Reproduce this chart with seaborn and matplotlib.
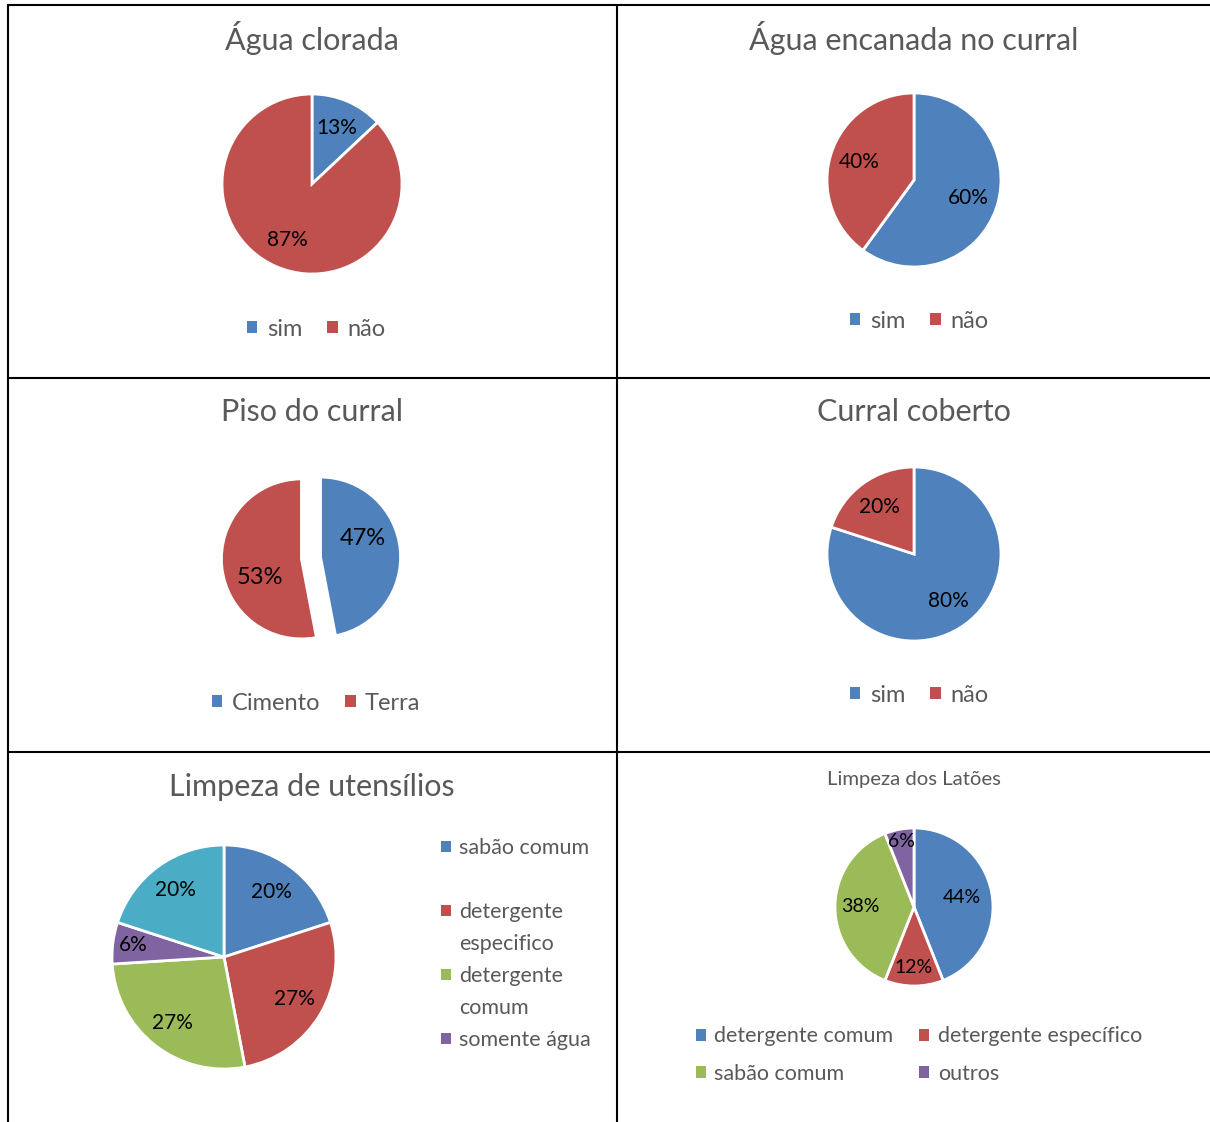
import matplotlib
matplotlib.use('Agg')
import matplotlib.pyplot as plt
import matplotlib.patches as mpatches
from matplotlib.lines import Line2D
import numpy as np
import seaborn as sns

W, H = 1210, 1122

# ---------------- data ----------------
cloro_title = 'Água clorada'
cloro_labels = ['sim', 'não']
cloro_vals = [13, 87]

encanada_title = 'Água encanada no curral'
encanada_labels = ['sim', 'não']
encanada_vals = [60, 40]

piso_title = 'Piso do curral'
piso_labels = ['Cimento', 'Terra']
piso_vals = [47, 53]

coberto_title = 'Curral coberto'
coberto_labels = ['sim', 'não']
coberto_vals = [80, 20]

utens_title = 'Limpeza de utensílios'
utens_labels = ['sabão comum', 'detergente especifico', 'detergente comum', 'somente água', 'outros']
utens_vals = [20, 27, 27, 6, 20]

latoes_title = 'Limpeza dos Latões'
latoes_labels = ['detergente comum', 'detergente específico', 'sabão comum', 'outros']
latoes_vals = [44, 12, 38, 6]

# ---------------- style ----------------
sns.set_theme(style='white')
plt.rcParams['font.family'] = ['Lato', 'DejaVu Sans']
pal = sns.color_palette(['#4F81BD', '#C0504D', '#9BBB59', '#8064A2', '#4BACC6'])
GRAY = '#595959'

fig = plt.figure(figsize=(W / 100, H / 100), dpi=100)
fig.patch.set_facecolor('white')


def fx(x):
    return x / W


def fy(y):
    return 1 - y / H


def px_axes(cx, cy, r, pad=1.3):
    s = 2 * r * pad
    return fig.add_axes([fx(cx - s / 2), fy(cy + s / 2), s / W, s / H])


def draw_pie(cx, cy, r, vals, fontsize, pctdist, explode=None, dists=None, rot=0.0):
    ax = px_axes(cx, cy, r)
    n = len(vals)
    wedges, texts, autotexts = ax.pie(
        vals, colors=pal[:n], startangle=90, counterclock=False,
        autopct='%.0f%%', pctdistance=pctdist, explode=explode,
        wedgeprops=dict(edgecolor='white', linewidth=2),
        textprops=dict(fontsize=fontsize, color='black'))
    if dists is None:
        dists = [pctdist] * n
    for w, t, d in zip(wedges, autotexts, dists):
        ang = np.deg2rad((w.theta1 + w.theta2) / 2 + rot)
        ox, oy = w.center
        t.set_position((ox + d * np.cos(ang), oy + d * np.sin(ang)))
    ax.set_xlim(-1.3, 1.3)
    ax.set_ylim(-1.3, 1.3)
    ax.set_aspect('equal')
    ax.axis('off')
    return ax


def title(x, y, s, size):
    fig.text(fx(x), fy(y), s, ha='center', va='center', fontsize=size, color=GRAY)


def row_legend(cx, cy, labels, size, order=None, ncol=None, colsp=1.05, labsp=0.5):
    idx = order if order is not None else list(range(len(labels)))
    hs = [mpatches.Patch(facecolor=pal[i], edgecolor='none') for i in idx]
    ls = [labels[i] for i in idx]
    leg = fig.legend(hs, ls, loc='center',
                     bbox_to_anchor=(fx(cx), fy(cy)), ncol=ncol or len(labels),
                     frameon=False, fontsize=size, handlelength=0.45, handleheight=0.45,
                     handletextpad=0.4, columnspacing=colsp, labelspacing=labsp,
                     borderpad=0, borderaxespad=0)
    for t in leg.get_texts():
        t.set_color(GRAY)
    return leg


# ---------------- panel 1 ----------------
title(312, 38, cloro_title, 22)
draw_pie(312, 184, 90, cloro_vals, 15, 0.68)
row_legend(316, 329, cloro_labels, 17)

# ---------------- panel 2 ----------------
title(914, 38, encanada_title, 22)
draw_pie(914, 180, 87, encanada_vals, 15, 0.66)
row_legend(919, 321, encanada_labels, 17)

# ---------------- panel 3 ----------------
title(312, 412, piso_title, 22)
draw_pie(311, 558, 80, piso_vals, 17, 0.57, explode=[0.12, 0.12], rot=18)
row_legend(316, 703, piso_labels, 17)

# ---------------- panel 4 ----------------
title(914, 412, coberto_title, 22)
draw_pie(914, 554, 87, coberto_vals, 15, 0.67)
row_legend(919, 695, coberto_labels, 17)

# ---------------- panel 5 ----------------
title(312, 787, utens_title, 22)
draw_pie(224, 957, 112, utens_vals, 15, 0.74, dists=[0.72, 0.73, 0.75, 0.82, 0.74])
rows = ['sabão comum', '', 'detergente', 'especifico', 'detergente', 'comum', 'somente água']
row_color = [0, None, 1, None, 2, None, 3]
hs = [mpatches.Patch(facecolor=(pal[c] if c is not None else 'none'), edgecolor='none')
      for c in row_color]
leg5 = fig.legend(hs, rows, loc='upper left', bbox_to_anchor=(fx(441), fy(838)),
                  frameon=False, fontsize=15.5, handlelength=0.45, handleheight=0.45,
                  handletextpad=0.4, labelspacing=0.56, borderpad=0, borderaxespad=0)
for t in leg5.get_texts():
    t.set_color(GRAY)

# ---------------- panel 6 ----------------
title(914, 780, latoes_title, 14.6)
draw_pie(914, 907, 79, latoes_vals, 14, 0.65, dists=[0.62, 0.77, 0.68, 0.84])
row_legend(919, 1055, latoes_labels, 15.5, order=[0, 2, 1, 3], ncol=2, colsp=1.2, labsp=0.8)

# ---------------- table borders ----------------
def line(x0, y0, x1, y1):
    fig.add_artist(Line2D([fx(x0), fx(x1)], [fy(y0), fy(y1)], color='black', lw=1.5))

line(8, 5, 1210, 5)
line(8, 378, 1210, 378)
line(8, 752, 1210, 752)
line(8, 5, 8, 1122)
line(617, 5, 617, 1122)

fig.savefig('out.png', dpi=100, facecolor='white')
